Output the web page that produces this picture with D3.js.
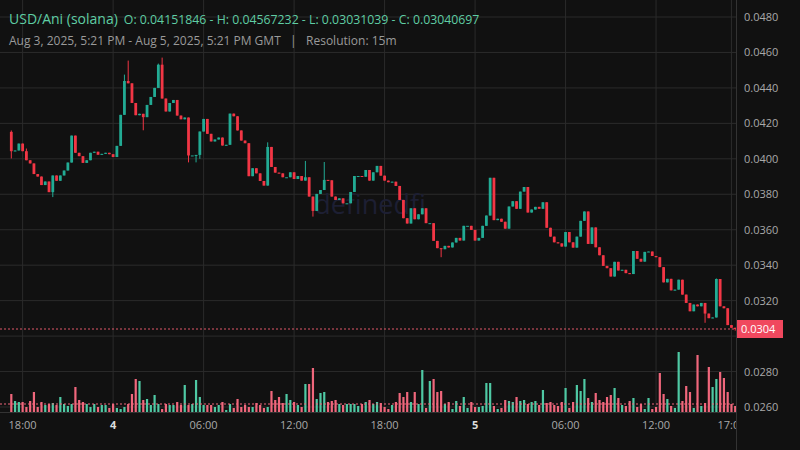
<!DOCTYPE html>
<html><head><meta charset="utf-8">
<script src="https://cdn.jsdelivr.net/npm/d3@7"></script>
<style>body{margin:0;background:#111111;}svg{display:block;font-family:"Open Sans",sans-serif;}</style>
</head><body>
<svg id="chart" width="800" height="450"></svg>
<script>
// closes, 15 minute candles from Aug 3 17:15 GMT
var closes = [
 0.04043,0.04047,0.04086,0.04043,0.03992,0.03974,0.03914,0.03900,0.03852,0.03872,
 0.03812,0.03906,0.03876,0.03906,0.03934,0.03979,0.04131,0.04034,0.04015,0.03977,
 0.03992,0.04034,0.04040,0.04023,0.04028,0.04034,0.04026,0.04010,0.04073,0.04248,
 0.04439,0.04426,0.04315,0.04246,0.04254,0.04235,0.04304,0.04349,0.04400,0.04531,
 0.04340,0.04267,0.04315,0.04332,0.04244,0.04223,0.04233,0.04019,0.04019,0.04022,
 0.04154,0.04225,0.04141,0.04098,0.04109,0.04120,0.04075,0.04079,0.04255,0.04240,
 0.04160,0.04103,0.04088,0.03902,0.03947,0.03918,0.03875,0.03849,0.04067,0.03954,
 0.03922,0.03918,0.03896,0.03896,0.03924,0.03886,0.03903,0.03877,0.03896,0.03787,
 0.03706,0.03802,0.03824,0.03881,0.03879,0.03787,0.03768,0.03777,0.03749,0.03749,
 0.03813,0.03903,0.03903,0.03899,0.03937,0.03877,0.03924,0.03960,0.03905,0.03877,
 0.03868,0.03871,0.03847,0.03768,0.03665,0.03635,0.03721,0.03659,0.03687,0.03721,
 0.03637,0.03637,0.03537,0.03496,0.03490,0.03509,0.03500,0.03528,0.03554,0.03539,
 0.03622,0.03622,0.03599,0.03539,0.03554,0.03622,0.03680,0.03893,0.03654,0.03662,
 0.03645,0.03606,0.03731,0.03761,0.03718,0.03815,0.03841,0.03697,0.03714,0.03729,
 0.03718,0.03755,0.03611,0.03561,0.03529,0.03523,0.03505,0.03587,0.03529,0.03499,
 0.03561,0.03650,0.03703,0.03520,0.03613,0.03501,0.03456,0.03396,0.03383,0.03336,
 0.03419,0.03370,0.03374,0.03355,0.03350,0.03480,0.03436,0.03420,0.03475,0.03477,
 0.03452,0.03445,0.03389,0.03303,0.03323,0.03258,0.03262,0.03318,0.03234,0.03187,
 0.03140,0.03178,0.03168,0.03187,0.03127,0.03101,0.03105,0.03322,0.03168,0.03157,
 0.03062,0.03047,0.03040
];
var firstOpen = 0.04152;
// wicks that stand out from the bodies
var highs = {0:0.0416,4:0.04058,30:0.04475,31:0.04554,39:0.04537,40:0.04571,68:0.04093,78:0.03988,83:0.03982,137:0.03794,187:0.03325};
var lows = {0:0.04002,11:0.03784,35:0.04161,47:0.0398,49:0.0398,50:0.0400,80:0.03674,112:0.03565,114:0.03445,184:0.03075,192:0.03031};
var volumes = [
 18,11,10,10,5,11,20,5,10,7, 8,9,7,15,8,6,8,25,12,10,
 8,5,8,5,7,7,4,8,4,3, 5,8,18,33,31,12,13,7,17,8,
 3,8,7,7,10,7,27,7,8,32, 15,7,7,7,5,7,10,2,8,4,
 13,5,7,5,5,9,7,4,5,21, 12,15,9,18,12,10,7,5,28,28,
 44,13,19,20,10,11,12,8,7,8, 8,8,6,8,10,12,8,10,9,5,
 3,7,10,19,15,20,10,20,8,42, 4,31,33,20,21,8,10,3,11,6,
 15,4,10,5,5,6,29,29,6,3, 4,12,11,10,15,11,12,8,10,11,
 7,22,9,10,7,6,10,24,4,10, 27,21,33,14,10,19,12,10,15,17,
 24,14,7,6,11,14,5,8,3,14, 3,5,39,18,13,6,4,60,11,26,
 20,4,57,6,9,45,25,33,40,34, 20,8,6
];
var priceTicks = [0.026,0.028,0.030,0.032,0.034,0.036,0.038,0.040,0.042,0.044,0.046,0.048];
var timeTicks = ["2025-08-03T18:00Z","2025-08-04T00:00Z","2025-08-04T06:00Z","2025-08-04T12:00Z","2025-08-04T18:00Z",
                 "2025-08-05T00:00Z","2025-08-05T06:00Z","2025-08-05T12:00Z","2025-08-05T17:00Z"];
var lastPrice = 0.0304;

var UP = "#22ab94", DOWN = "#f23645", UPV = "#4fc9a4", DOWNV = "#f0677c";
var svg = d3.select("#chart");
var plotW = 736;
var t0 = new Date("2025-08-03T17:15:00Z");
var step = 15*60*1000;
var x = d3.scaleTime().domain([new Date(t0 - 3*step), new Date(+t0 + 193*step)]).range([0, 739]);
var y = d3.scaleLinear().domain([0.026, 0.048]).range([407, 17]);
var yv = d3.scaleLinear().domain([0, 65]).range([412, 347]);

var data = closes.map(function(c, i) {
  var o = i === 0 ? firstOpen : closes[i-1];
  return {t: new Date(+t0 + i*step), o: o, c: c,
          h: highs[i] != null ? highs[i] : Math.max(o, c),
          l: lows[i] != null ? lows[i] : Math.min(o, c), v: volumes[i]};
});

svg.append("rect").attr("width", 800).attr("height", 450).attr("fill", "#111111");
svg.append("defs").append("clipPath").attr("id", "plot").append("rect").attr("width", plotW).attr("height", 450);
var g = svg.append("g").attr("clip-path", "url(#plot)");

// grid
g.selectAll(".hg").data(priceTicks).join("line")
  .attr("x1", 0).attr("x2", plotW).attr("y1", d => y(d)).attr("y2", d => y(d))
  .attr("stroke", "#2b2b2b");
g.selectAll(".vg").data(timeTicks).join("line")
  .attr("x1", d => x(new Date(d))).attr("x2", d => x(new Date(d))).attr("y1", 0).attr("y2", 412)
  .attr("stroke", "#2b2b2b");

g.append("text").attr("x", 370).attr("y", 214).attr("text-anchor", "middle")
  .attr("font-size", 27).attr("fill", "#1d1f33").text("definedfi");

// volume
var bw = 2.2;
g.selectAll(".vol").data(data).join("rect")
  .attr("x", d => x(d.t) - bw/2).attr("width", bw)
  .attr("y", d => yv(d.v)).attr("height", d => yv(0) - yv(d.v))
  .attr("fill", d => d.c >= d.o ? UPV : DOWNV);
g.append("line").attr("x1", 0).attr("x2", plotW).attr("y1", 404).attr("y2", 404)
  .attr("stroke", DOWNV).attr("stroke-dasharray", "2,2");

// candles
var cw = 2.8;
g.selectAll(".wick").data(data).join("line")
  .attr("x1", d => x(d.t)).attr("x2", d => x(d.t))
  .attr("y1", d => y(d.h)).attr("y2", d => y(d.l))
  .attr("stroke", d => d.c >= d.o ? UP : DOWN);
g.selectAll(".body").data(data).join("rect")
  .attr("x", d => x(d.t) - cw/2).attr("width", cw)
  .attr("y", d => y(Math.max(d.o, d.c)))
  .attr("height", d => Math.max(1, Math.abs(y(d.o) - y(d.c))))
  .attr("fill", d => d.c >= d.o ? UP : DOWN);

// last price line
g.append("line").attr("x1", 0).attr("x2", plotW).attr("y1", y(lastPrice)).attr("y2", y(lastPrice))
  .attr("stroke", "#e0596a").attr("stroke-dasharray", "2,2");

// axes
svg.append("line").attr("x1", plotW + 0.5).attr("x2", plotW + 0.5).attr("y1", 0).attr("y2", 450).attr("stroke", "#333");
svg.append("line").attr("x1", 0).attr("x2", plotW).attr("y1", 412.5).attr("y2", 412.5).attr("stroke", "#333");
// labels hidden behind the price tag are left out
svg.selectAll(".yl").data(priceTicks.filter(d => Math.abs(y(d) - y(lastPrice)) > 12)).join("text")
  .attr("x", 744).attr("y", d => y(d) + 4).attr("font-size", 11).attr("fill", "#a9a9a9")
  .text(d => d.toFixed(4));
svg.append("rect").attr("x", 737).attr("y", y(lastPrice) - 9).attr("width", 46).attr("height", 18).attr("fill", "#f0485e");
svg.append("text").attr("x", 741).attr("y", y(lastPrice) + 4).attr("font-size", 11).attr("fill", "#fff").text(lastPrice.toFixed(4));

var xl = svg.append("g").attr("clip-path", "url(#plot)");
xl.selectAll("text").data(timeTicks).join("text")
  .attr("x", d => x(new Date(d))).attr("y", 429).attr("text-anchor", "middle").attr("font-size", 11)
  .attr("fill", d => new Date(d).getUTCHours() === 0 ? "#dddddd" : "#a9a9a9")
  .attr("font-weight", d => new Date(d).getUTCHours() === 0 ? "bold" : "normal")
  .text(d => { var t = new Date(d); return t.getUTCHours() === 0 ? d3.utcFormat("%-d")(t) : d3.utcFormat("%H:%M")(t); });

// header
var h = svg.append("text").attr("x", 9).attr("y", 24).attr("fill", "#5fcda4");
h.append("tspan").attr("font-size", 14).text("USD/Ani (solana)");
h.append("tspan").attr("dx", 6).attr("font-size", 12.3).text("O: 0.04151846 - H: 0.04567232 - L: 0.03031039 - C: 0.03040697");
svg.append("text").attr("x", 9).attr("y", 45).attr("font-size", 12).attr("fill", "#9a9a9a").attr("xml:space", "preserve")
  .text("Aug 3, 2025, 5:21 PM - Aug 5, 2025, 5:21 PM GMT   |   Resolution: 15m");
</script>
</body></html>
